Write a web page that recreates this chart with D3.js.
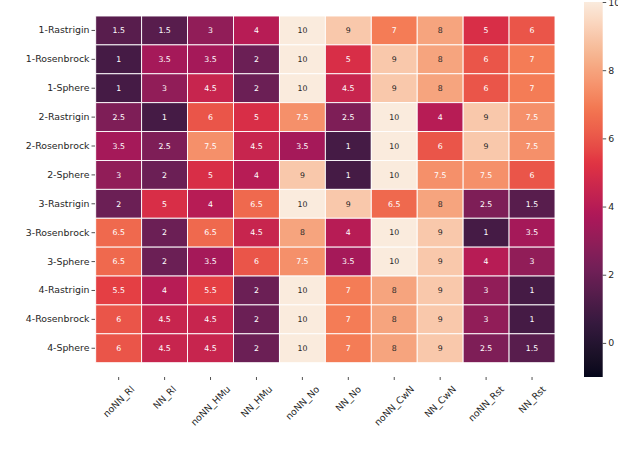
<!DOCTYPE html>
<html>
    <head>
        <meta charset="utf-8">
        <script src="https://d3js.org/d3.v7.min.js"></script>
        <title>Heatmap</title>
        <style>
            body {margin: 0; background-color: white;}
            svg text {font-family: "DejaVu Sans", sans-serif;}
            .axis path.domain {display: none;}
            .axis line {stroke: #262626; stroke-width: 0.8;}
            .axis text {fill: #262626; font-size: 9.4px;}
        </style>
    </head>
    <body>
        <script>
            const rows = ['1-Rastrigin', '1-Rosenbrock', '1-Sphere', '2-Rastrigin', '2-Rosenbrock', '2-Sphere',
                          '3-Rastrigin', '3-Rosenbrock', '3-Sphere', '4-Rastrigin', '4-Rosenbrock', '4-Sphere']
            const cols = ['noNN_Rl', 'NN_Rl', 'noNN_HMu', 'NN_HMu', 'noNN_No', 'NN_No',
                          'noNN_CwN', 'NN_CwN', 'noNN_Rst', 'NN_Rst']
            const values = [
                [1.5, 1.5, 3, 4, 10, 9, 7, 8, 5, 6],
                [1, 3.5, 3.5, 2, 10, 5, 9, 8, 6, 7],
                [1, 3, 4.5, 2, 10, 4.5, 9, 8, 6, 7],
                [2.5, 1, 6, 5, 7.5, 2.5, 10, 4, 9, 7.5],
                [3.5, 2.5, 7.5, 4.5, 3.5, 1, 10, 6, 9, 7.5],
                [3, 2, 5, 4, 9, 1, 10, 7.5, 7.5, 6],
                [2, 5, 4, 6.5, 10, 9, 6.5, 8, 2.5, 1.5],
                [6.5, 2, 6.5, 4.5, 8, 4, 10, 9, 1, 3.5],
                [6.5, 2, 3.5, 6, 7.5, 3.5, 10, 9, 4, 3],
                [5.5, 4, 5.5, 2, 10, 7, 8, 9, 3, 1],
                [6, 4.5, 4.5, 2, 10, 7, 8, 9, 3, 1],
                [6, 4.5, 4.5, 2, 10, 7, 8, 9, 2.5, 1.5]
            ]
            const cbarTicks = [0, 2, 4, 6, 8, 10]
            const vmin = -1
            const vmax = 10

            // seaborn "rocket" colormap stops
            const rocket = ['#03051a', '#35193e', '#701f57', '#ad1759', '#e13342', '#f37651', '#f6b48f', '#faebdd']
            const rocketPos = [0, 1 / 7, 2 / 7, 3 / 7, 4 / 7, 5 / 7, 6 / 7, 1]

            const width = 618
            const height = 454
            const hm = {left: 95.7, right: 555, top: 16, bottom: 362.7}
            const cb = {left: 584, right: 602.7, top: 2, bottom: 377}

            const svg = d3.select('body')
                .append('svg')
                    .attr('width', width)
                    .attr('height', height)

            const norm = d3.scaleLinear().domain([vmin, vmax]).range([0, 1])
            const cmap = d3.scaleLinear().domain(rocketPos).range(rocket).interpolate(d3.interpolateLab).clamp(true)
            const color = v => cmap(norm(v))

            const xScale = d3.scaleBand().domain(cols).range([hm.left, hm.right])
            const yScale = d3.scaleBand().domain(rows).range([hm.top, hm.bottom])

            const cells = []
            values.forEach((r, i) => r.forEach((v, j) => cells.push({row: rows[i], col: cols[j], v: v})))

            const lum = c => {
                const rgb = d3.rgb(c)
                const f = x => { x /= 255; return x <= 0.03928 ? x / 12.92 : Math.pow((x + 0.055) / 1.055, 2.4) }
                return 0.2126 * f(rgb.r) + 0.7152 * f(rgb.g) + 0.0722 * f(rgb.b)
            }

            svg.append('g').selectAll('rect')
                .data(cells)
                .enter()
                .append('rect')
                    .attr('x', d => xScale(d.col))
                    .attr('y', d => yScale(d.row))
                    .attr('width', xScale.bandwidth())
                    .attr('height', yScale.bandwidth())
                    .attr('fill', d => color(d.v))
                    .attr('stroke', 'white')
                    .attr('stroke-width', 0.9)

            svg.append('g').selectAll('text')
                .data(cells)
                .enter()
                .append('text')
                    .attr('x', d => xScale(d.col) + xScale.bandwidth() / 2)
                    .attr('y', d => yScale(d.row) + yScale.bandwidth() / 2)
                    .attr('dy', '0.36em')
                    .attr('text-anchor', 'middle')
                    .attr('font-size', '7.8px')
                    .attr('fill', d => lum(color(d.v)) > 0.45 ? '#262626' : 'white')
                    .text(d => d.v)

            // y axis
            svg.append('g')
                .attr('class', 'axis')
                .attr('transform', `translate(${hm.left - 0.7},0)`)
                .call(d3.axisLeft(yScale).tickSize(3.5).tickSizeOuter(0).tickPadding(2))

            // x axis, sitting a bit below the heatmap
            const xAxisY = 377
            const xg = svg.append('g')
                .attr('class', 'axis')
                .attr('transform', `translate(0,${xAxisY})`)
                .call(d3.axisBottom(xScale).tickSize(3).tickSizeOuter(0))
            xg.selectAll('text').each(function () {
                const t = d3.select(this)
                const w = this.getComputedTextLength()
                const h = 10
                const cy = 7 + (w + h) / (2 * Math.SQRT2)
                t.attr('y', null).attr('dy', '0.35em')
                    .attr('text-anchor', 'middle')
                    .attr('transform', `translate(0,${cy}) rotate(-45)`)
            })

            // colorbar
            const defs = svg.append('defs')
            const grad = defs.append('linearGradient')
                .attr('id', 'cbar')
                .attr('x1', 0).attr('y1', 1).attr('x2', 0).attr('y2', 0)
            d3.range(0, 1.0001, 0.02).forEach(t => {
                grad.append('stop').attr('offset', t).attr('stop-color', cmap(t))
            })
            const cbScale = d3.scaleLinear().domain([vmin, vmax]).range([cb.bottom, cb.top])
            svg.append('rect')
                .attr('x', cb.left)
                .attr('y', cb.top)
                .attr('width', cb.right - cb.left)
                .attr('height', cb.bottom - cb.top)
                .attr('fill', 'url(#cbar)')
            svg.append('g')
                .attr('class', 'axis')
                .attr('transform', `translate(${cb.right},0)`)
                .call(d3.axisRight(cbScale).tickValues(cbarTicks).tickSize(3.5).tickPadding(2))

            // caption, mostly cut off by the frame
            svg.append('text')
                .attr('x', 1)
                .attr('y', 473)
                .attr('font-family', '"Liberation Serif", serif')
                .attr('font-size', '22px')
                .attr('fill', '#111')
                .text('Fig. 3')
        </script>
    </body>
</html>
